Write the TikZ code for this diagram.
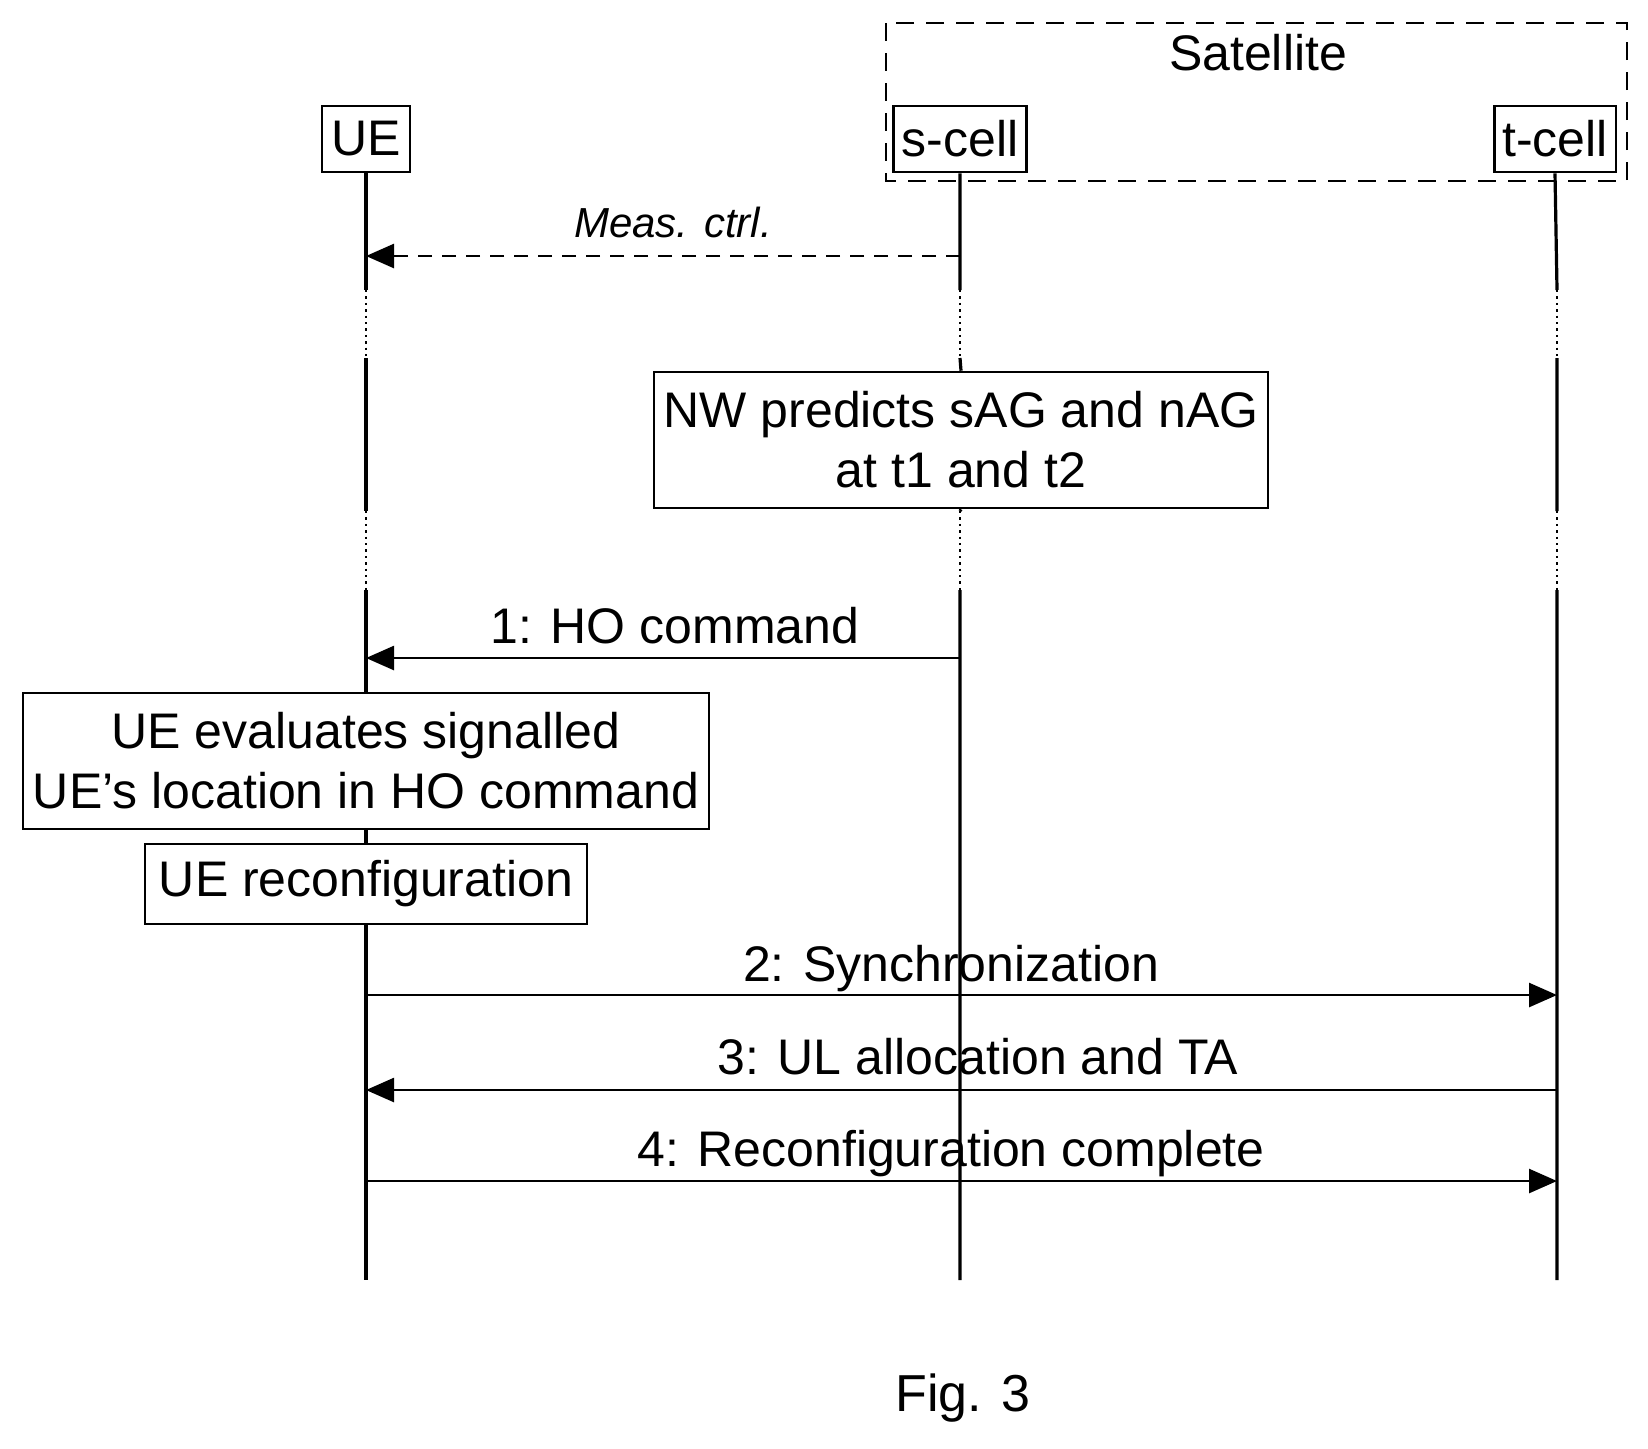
\documentclass[tikz,border=0pt]{standalone}
\usepackage{fontspec}
\setmainfont{Liberation Sans}
\usetikzlibrary{arrows.meta}

\tikzset{
    box/.style={draw, line width=1.3pt, inner sep=4pt, align=center, font=\fontsize{25}{30}\selectfont},
    life/.style={line width=1.6pt},
    gap/.style={line width=1.2pt, dotted},
    msg/.style={line width=1.3pt, -{Triangle[length=14pt,width=12pt]}},
    lbl/.style={font=\fontsize{25}{30}\selectfont, anchor=base},
}

\begin{document}
\begin{tikzpicture}[x=0.5pt,y=-0.5pt]
    \useasboundingbox (0,0) rectangle (1648,1448);
    % group frame
    \draw[line width=1.2pt, dash pattern=on 9pt off 6pt] (886,23) rectangle (1627,181);
    \node[lbl] (sat) at (1258,70) {Satellite};
    % heads
    \node[box, minimum width=44pt, minimum height=33pt] (ue) at (366,139) {UE};
    \node[box, minimum width=66pt, minimum height=33pt] (sc) at (960,139) {s-cell};
    \node[box, minimum width=58pt, minimum height=33pt] (tc) at (1555,139) {t-cell};
    % boxes
    \node[box, minimum width=307pt, minimum height=68pt] (nw) at (961,440) {NW predicts sAG and nAG\\at t1 and t2};
    \node[box, minimum width=343pt, minimum height=68pt] (ev) at (366,761) {UE evaluates signalled\\UE's location in HO command};
    \node[box, minimum width=221pt, minimum height=40pt] (rc) at (366,884) {UE reconfiguration};
    % lifeline points
    \foreach \n/\x in {u/366, s/960, t/1557} {
        \coordinate (\n1) at (\x,290);
        \coordinate (\n2) at (\x,358);
        \coordinate (\n3) at (\x,511);
        \coordinate (\n4) at (\x,590);
        \coordinate (\n5) at (\x,1280);
    }
    % lifelines
    \draw[life] (ue.south) -- (u1) (u2) -- (u3) (u4) -- (ev.north) (ev.south) -- (rc.north) (rc.south) -- (u5);
    \draw[life] (sc.south) -- (s1) (s2) -- (nw.north) (nw.south) -- (s3) (s4) -- (s5);
    \draw[life] (tc.south) -- (t1) (t2) -- (t3) (t4) -- (t5);
    \draw[gap] (u1) -- (u2) (u3) -- (u4) (s1) -- (s2) (s3) -- (s4) (t1) -- (t2) (t3) -- (t4);
    % messages
    \foreach \n/\y in {a/256, b/658, c/995, d/1090, e/1181} {
        \coordinate (u\n) at (366,\y);
        \coordinate (s\n) at (960,\y);
        \coordinate (t\n) at (1557,\y);
    }
    \draw[msg, dash pattern=on 7pt off 5pt] (sa) -- (ua);
    \node[lbl, font=\fontsize{21}{25}\selectfont\itshape] (m0) at (673,237) {Meas. ctrl.};
    \draw[msg] (sb) -- (ub);
    \node[lbl] (m1) at (675,643) {1: HO command};
    \draw[msg] (uc) -- (tc);
    \node[lbl] (m2) at (951,981) {2: Synchronization};
    \draw[msg] (td) -- (ud);
    \node[lbl] (m3) at (978,1074) {3: UL allocation and TA};
    \draw[msg] (ue) -- (te);
    \node[lbl] (m4) at (951,1166) {4: Reconfiguration complete};
    % caption
    \node[font=\fontsize{26}{30}\selectfont] (fig) at (963,1398) {Fig. 3};
\end{tikzpicture}
\end{document}
